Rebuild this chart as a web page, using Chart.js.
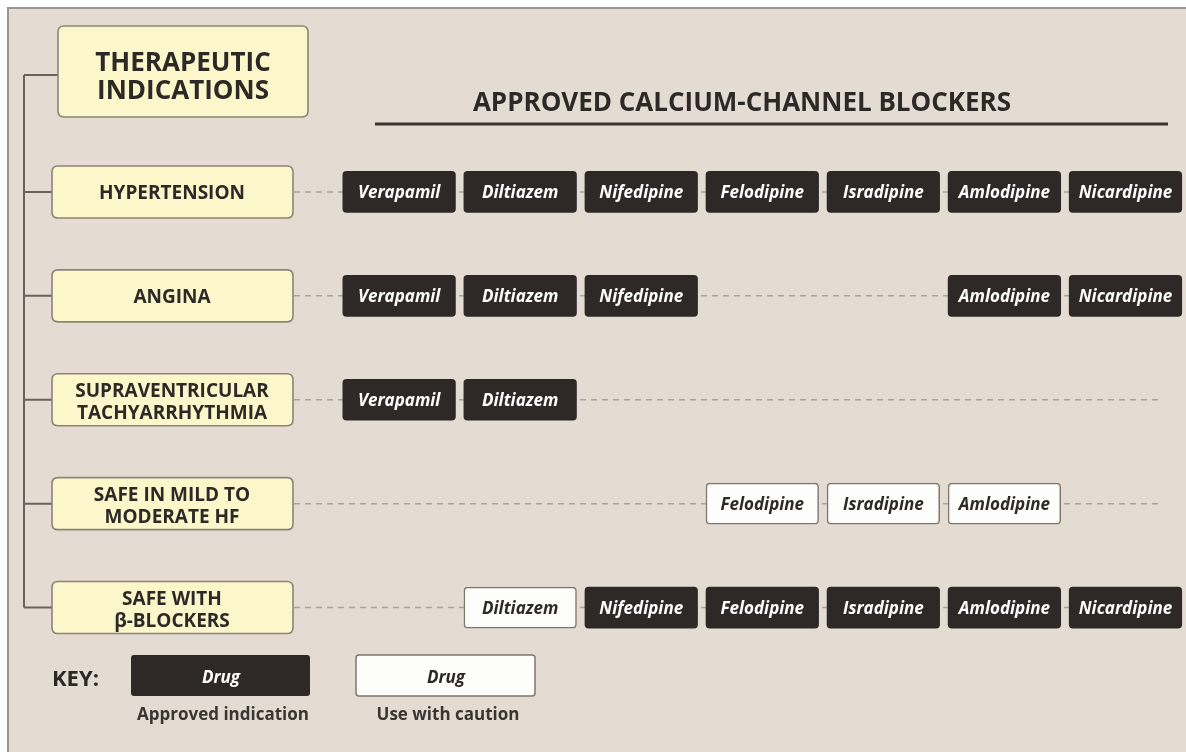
<!DOCTYPE html>
<html>
<head>
<meta charset="utf-8">
<script src="https://cdn.jsdelivr.net/npm/chart.js@4.4.1/dist/chart.umd.min.js"></script>
<style>
html,body{margin:0;padding:0;background:#ffffff;}
#wrap{width:1186px;height:752px;position:relative;}
</style>
</head>
<body>
<div id="wrap"><canvas id="c"></canvas></div>
<script>
// ---------- DATA ----------
const indications = [
  ["HYPERTENSION"],
  ["ANGINA"],
  ["SUPRAVENTRICULAR", "TACHYARRHYTHMIA"],
  ["SAFE IN MILD TO", "MODERATE HF"],
  ["SAFE WITH", "β-BLOCKERS"]
];
const drugs = ["Verapamil", "Diltiazem", "Nifedipine", "Felodipine", "Isradipine", "Amlodipine", "Nicardipine"];
// A = approved indication, C = use with caution, "" = not indicated
const statusRows = [
  ["A", "A", "A", "A", "A", "A", "A"],
  ["A", "A", "A", "",  "",  "A", "A"],
  ["A", "A", "",  "",  "",  "",  "" ],
  ["",  "",  "",  "C", "C", "C", ""  ],
  ["",  "C", "A", "A", "A", "A", "A"]
];
const sideTitle = ["THERAPEUTIC", "INDICATIONS"];
const headerTitle = "APPROVED CALCIUM-CHANNEL BLOCKERS";
const keyTitle = "KEY:";
const keySample = "Drug";
const keyStatuses = ["A", "C"];
const keyLabels = ["Approved indication", "Use with caution"];

// ---------- STYLE ----------
const DARK = "#2e2927";
const WHITE = "#fdfdfb";
const CAUTION_BORDER = "#7f766f";
const YELLOW = "#fcf7cb";
const YBORDER = "#8d8478";
const BG = "#e4dcd3";
const TEXT = "#2d2926";
const TREE = "#6a625d";
const HALF = 0.465;

function rr(ctx, x, y, w, h, r) {
  ctx.beginPath();
  ctx.moveTo(x + r, y);
  ctx.lineTo(x + w - r, y);
  ctx.quadraticCurveTo(x + w, y, x + w, y + r);
  ctx.lineTo(x + w, y + h - r);
  ctx.quadraticCurveTo(x + w, y + h, x + w - r, y + h);
  ctx.lineTo(x + r, y + h);
  ctx.quadraticCurveTo(x, y + h, x, y + h - r);
  ctx.lineTo(x, y + r);
  ctx.quadraticCurveTo(x, y, x + r, y);
  ctx.closePath();
}
function txt(ctx, s, x, y, font, color, align) {
  ctx.font = font;
  ctx.fillStyle = color;
  ctx.textAlign = align || "center";
  ctx.textBaseline = "alphabetic";
  ctx.fillText(s, x, y);
}

const diagram = {
  id: "diagram",
  beforeDraw(chart) {
    const ctx = chart.ctx;
    const ys = chart.scales.y;
    ctx.save();
    // page background and frame
    ctx.fillStyle = "#ffffff";
    ctx.fillRect(0, 0, chart.width, chart.height);
    ctx.fillStyle = BG;
    ctx.fillRect(7, 7, chart.width - 7, chart.height - 7);
    ctx.strokeStyle = "#9c948e";
    ctx.lineWidth = 2;
    ctx.beginPath();
    ctx.moveTo(8, chart.height);
    ctx.lineTo(8, 8);
    ctx.lineTo(chart.width, 8);
    ctx.stroke();

    // tree
    const rowY = indications.map((_, i) => ys.getPixelForValue(i));
    ctx.strokeStyle = TREE;
    ctx.lineWidth = 2;
    ctx.beginPath();
    ctx.moveTo(24, 75);
    ctx.lineTo(24, rowY[rowY.length - 1]);
    ctx.moveTo(24, 75);
    ctx.lineTo(58, 75);
    rowY.forEach(y => { ctx.moveTo(24, y); ctx.lineTo(52, y); });
    ctx.stroke();

    // title box
    rr(ctx, 58, 26, 250, 91, 6);
    ctx.fillStyle = YELLOW;
    ctx.fill();
    ctx.strokeStyle = YBORDER;
    ctx.lineWidth = 1.6;
    ctx.stroke();
    txt(ctx, sideTitle[0], 183, 71, "bold 26px 'Open Sans'", TEXT);
    txt(ctx, sideTitle[1], 183, 99, "bold 26px 'Open Sans'", TEXT);

    // header
    txt(ctx, headerTitle, 742, 111, "bold 26px 'Open Sans'", TEXT);
    ctx.strokeStyle = "#3a3431";
    ctx.lineWidth = 3;
    ctx.beginPath();
    ctx.moveTo(375, 124);
    ctx.lineTo(1168, 124);
    ctx.stroke();

    // dashed connectors
    ctx.strokeStyle = "#a9a19b";
    ctx.lineWidth = 1.5;
    ctx.setLineDash([6, 5]);
    rowY.forEach(y => {
      ctx.beginPath();
      ctx.moveTo(294, y);
      ctx.lineTo(1160, y);
      ctx.stroke();
    });
    ctx.setLineDash([]);

    // indication boxes
    rowY.forEach((y, i) => {
      rr(ctx, 52, y - 26, 241, 52, 6);
      ctx.fillStyle = YELLOW;
      ctx.fill();
      ctx.strokeStyle = YBORDER;
      ctx.lineWidth = 1.6;
      ctx.stroke();
      const lines = indications[i];
      if (lines.length === 1) {
        txt(ctx, lines[0], 172, y + 7, "bold 19px 'Open Sans'", TEXT);
      } else {
        txt(ctx, lines[0], 172, y - 3, "bold 19px 'Open Sans'", TEXT);
        txt(ctx, lines[1], 172, y + 19, "bold 19px 'Open Sans'", TEXT);
      }
    });
    ctx.restore();
  },
  afterDatasetsDraw(chart) {
    const ctx = chart.ctx;
    ctx.save();
    chart.data.datasets.forEach((ds, j) => {
      const meta = chart.getDatasetMeta(j);
      meta.data.forEach((bar, i) => {
        const st = statusRows[i][j];
        if (!st) return;
        const cx = (bar.x + bar.base) / 2;
        txt(ctx, drugs[j], cx, bar.y + 6, "italic bold 17px 'Open Sans'", st === "A" ? "#ffffff" : TEXT);
      });
    });

    // key
    txt(ctx, keyTitle, 52, 686, "bold 22px 'Open Sans'", TEXT, "left");
    const keyX = [131, 356];
    keyStatuses.forEach((st, k) => {
      rr(ctx, keyX[k], 655, 179, 41, 3);
      ctx.fillStyle = st === "A" ? DARK : WHITE;
      ctx.fill();
      if (st === "C") {
        ctx.strokeStyle = CAUTION_BORDER;
        ctx.lineWidth = 1.5;
        ctx.stroke();
      }
      txt(ctx, keySample, keyX[k] + 90, 683, "italic bold 17px 'Open Sans'", st === "A" ? "#ffffff" : TEXT);
      txt(ctx, keyLabels[k], keyX[k] + 92, 720, "bold 17px 'Open Sans'", "#3a3531");
    });
    ctx.restore();
  }
};

const datasets = drugs.map((name, j) => ({
  label: name,
  data: indications.map((_, i) => statusRows[i][j] ? [j - HALF, j + HALF] : null),
  backgroundColor: c => statusRows[c.dataIndex][j] === "C" ? WHITE : DARK,
  borderColor: c => statusRows[c.dataIndex][j] === "C" ? CAUTION_BORDER : DARK,
  borderWidth: c => statusRows[c.dataIndex][j] === "C" ? 1.5 : 0,
  borderRadius: 4,
  borderSkipped: false,
  barThickness: 41,
  grouped: false
}));

new Chart(document.getElementById("c"), {
  type: "bar",
  data: { labels: indications.map(l => l.join(" ")), datasets },
  options: {
    indexAxis: "y",
    responsive: true,
    maintainAspectRatio: false,
    animation: false,
    events: [],
    layout: { padding: { left: 338.6, right: 0, top: 140, bottom: 92.5 } },
    scales: {
      x: { type: "linear", min: -0.5, max: 6.5, display: false },
      y: { type: "category", display: false }
    },
    plugins: { legend: { display: false }, tooltip: { enabled: false }, title: { display: false } }
  },
  plugins: [diagram]
});
</script>
</body>
</html>
